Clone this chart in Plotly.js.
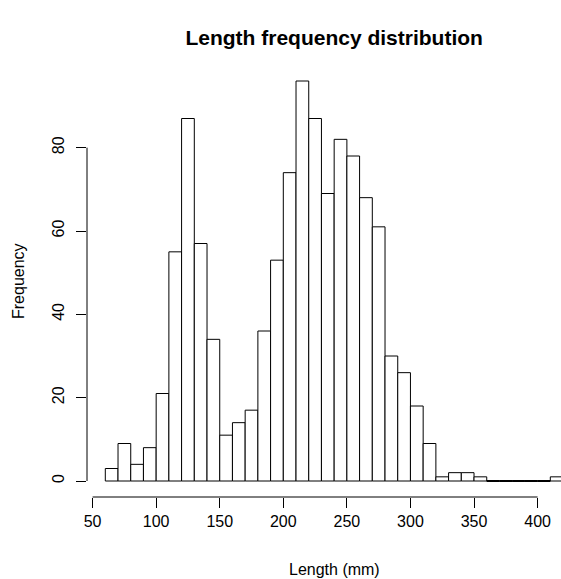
<!DOCTYPE html>
<html>
<head>
<meta charset="utf-8">
<script src="https://cdn.plot.ly/plotly-3.0.1.min.js"></script>
<style>html,body{margin:0;padding:0;background:#fff;}#chart{width:561px;height:579px;}</style>
</head>
<body>
<div id="chart"></div>
<script>
// Histogram bins (left edges, width 10 mm) and counts
var binStarts = [60,70,80,90,100,110,120,130,140,150,160,170,180,190,200,210,220,230,240,250,260,270,280,290,300,310,320,330,340,350,360,370,380,390,400,410];
var binWidth = 10;
var counts = [3,9,4,8,21,55,87,57,34,11,14,17,36,53,74,96,87,69,82,78,68,61,30,26,18,9,1,2,2,1,0,0,0,0,0,1];
var xTicks = [50,100,150,200,250,300,350,400];
var yTicks = [0,20,40,60,80];
var titleText = "Length frequency distribution";
var xTitle = "Length (mm)";
var yTitle = "Frequency";

var centers = binStarts.map(function(s){ return s + binWidth/2; });

// zero-count bins drawn as baseline segments (like R's empty rects)
var zeroX = [], zeroY = [];
for (var i = 0; i < binStarts.length; i++) {
  if (counts[i] === 0) {
    zeroX.push(binStarts[i], binStarts[i] + binWidth, null);
    zeroY.push(0, 0, null);
  }
}

var font = "Liberation Sans, Arial, Helvetica, sans-serif";

var traces = [
  {
    type: "bar",
    x: centers,
    y: counts,
    width: binWidth,
    marker: {color: "#ffffff", line: {color: "#000000", width: 1}},
    hoverinfo: "x+y"
  },
  {
    type: "scatter",
    mode: "lines",
    x: zeroX,
    y: zeroY,
    line: {color: "#000000", width: 2},
    hoverinfo: "skip",
    cliponaxis: false
  }
];

var xmin = binStarts[0], xmax = binStarts[binStarts.length-1] + binWidth;
var xpad = (xmax - xmin) * 0.04;
var ymax = Math.max.apply(null, counts);
var ypad = ymax * 0.04;
var plotW = 561 - 87;
var pxPerUnit = 445 / (xTicks[xTicks.length-1] - xTicks[0]);
var xLo = xmin - xpad;
var xHi = xLo + plotW / pxPerUnit;
var xMid = (xmin + xmax) / 2;

var layout = {
  width: 561,
  height: 579,
  margin: {l: 87, r: 0, t: 65, b: 82, pad: 0},
  paper_bgcolor: "#ffffff",
  plot_bgcolor: "#ffffff",
  showlegend: false,
  bargap: 0,
  font: {family: font, color: "#000000", size: 16},
  title: {
    text: "<b>" + titleText + "</b>",
    font: {family: font, size: 21, color: "#000000"},
    xref: "paper",
    x: (xMid - xLo) / (xHi - xLo),
    xanchor: "center",
    yref: "container",
    y: 1 - 37.5/579,
    yanchor: "middle"
  },
  xaxis: {
    range: [xLo, xHi],
    tickmode: "array",
    tickvals: xTicks,
    ticktext: xTicks.map(String),
    ticks: "outside",
    ticklen: 10,
    tickwidth: 1,
    tickcolor: "#000000",
    showline: false,
    showgrid: false,
    zeroline: false,
    tickfont: {family: font, size: 16, color: "#000000"},
    fixedrange: true
  },
  yaxis: {
    range: [-ypad, ymax + ypad],
    tickmode: "array",
    tickvals: yTicks,
    ticktext: yTicks.map(String),
    ticks: "outside",
    ticklen: 10,
    tickwidth: 1,
    tickcolor: "#000000",
    tickangle: -90,
    ticklabelstandoff: 6,
    showline: false,
    showgrid: false,
    zeroline: false,
    tickfont: {family: font, size: 16, color: "#000000"},
    fixedrange: true
  },
  shapes: [
    {type: "line", xref: "x", yref: "paper", x0: xTicks[0], x1: xTicks[xTicks.length-1], y0: 0, y1: 0, line: {color: "#000000", width: 1}},
    {type: "line", xref: "paper", yref: "y", x0: 0, x1: 0, y0: yTicks[0], y1: yTicks[yTicks.length-1], line: {color: "#000000", width: 1}}
  ],
  annotations: [
    {text: xTitle, xref: "x", x: xMid, yref: "paper", y: 0, yshift: -72, xanchor: "center", yanchor: "middle", showarrow: false, font: {family: font, size: 16, color: "#000000"}},
    {text: yTitle, xref: "paper", x: 0, xshift: -69, yref: "paper", y: 0.5, xanchor: "center", yanchor: "middle", textangle: -90, showarrow: false, font: {family: font, size: 16, color: "#000000"}}
  ]
};

Plotly.newPlot("chart", traces, layout, {displayModeBar: false, staticPlot: true});
</script>
</body>
</html>
